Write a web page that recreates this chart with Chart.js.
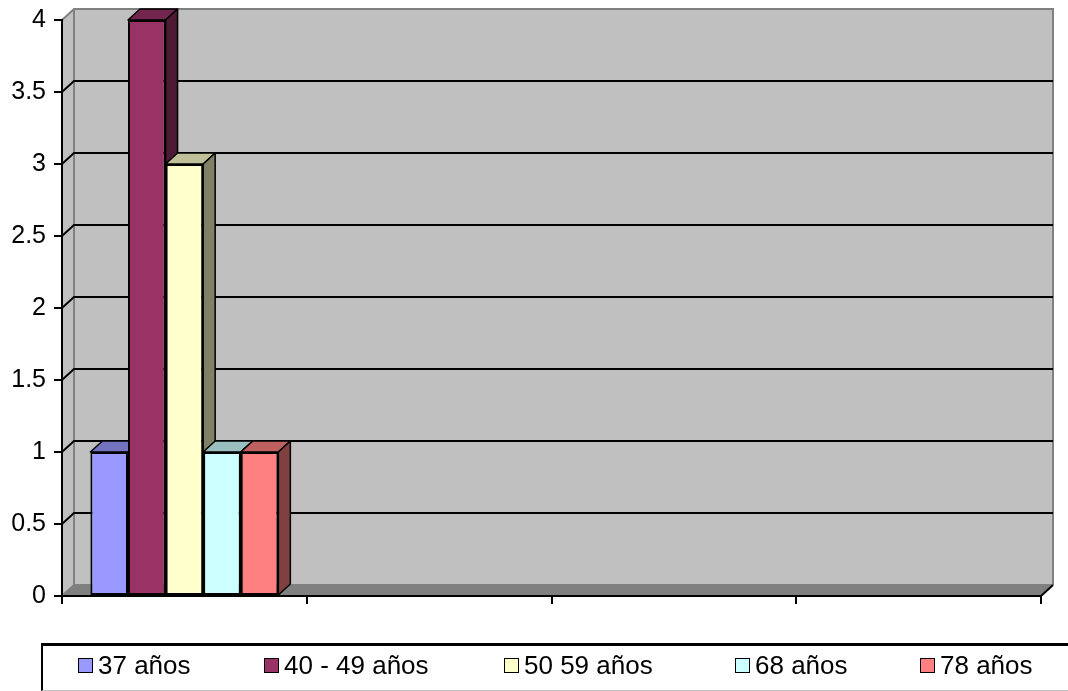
<!DOCTYPE html>
<html><head><meta charset="utf-8">
<script src="https://cdn.jsdelivr.net/npm/chart.js@4.4.1/dist/chart.umd.min.js"></script>
<style>
html,body{margin:0;padding:0;background:#fff;}
#wrap{position:relative;width:1068px;height:691px;overflow:hidden;}
canvas{position:absolute;left:0;top:0;}
#legend{position:absolute;left:41px;top:643px;width:1100px;height:44px;border-top:3px solid #000;border-left:2px solid #000;border-bottom:1px solid #c0c0c0;font:26px "Liberation Sans",Arial,sans-serif;color:#000;}
.item{position:absolute;top:-3px;height:44px;display:flex;align-items:center;white-space:nowrap;}
.sw{width:13px;height:13px;border:1.5px solid #000;margin-right:5px;}
</style></head>
<body><div id="wrap"><canvas id="c" width="1068" height="691"></canvas><div id="legend"></div></div>
<script>
// ---- data ----
const categories = ['', '', '', ''];
const seriesNames = ['37 años', '40 - 49 años', '50 59 años', '68 años', '78 años'];
const s37 = [1, null, null, null];
const s40_49 = [4, null, null, null];
const s50_59 = [3, null, null, null];
const s68 = [1, null, null, null];
const s78 = [1, null, null, null];
const yTickValues = [0, 0.5, 1, 1.5, 2, 2.5, 3, 3.5, 4];

// ---- styles ----
const frontColors = ['#9999FF', '#993366', '#FFFFCC', '#CCFFFF', '#FF8080'];
const topColors   = ['#7373BF', '#73264D', '#BFBF99', '#99BFBF', '#BF6060'];
const sideColors  = ['#4D4D80', '#4D1933', '#808066', '#668080', '#804040'];
const legendLeft  = [35, 221, 461, 692, 877];
const DX = 12, DY = 11;

const seriesData = [s37, s40_49, s50_59, s68, s78];

const excel3d = {
  id: 'excel3d',
  beforeDraw(chart) {
    const ctx = chart.ctx, a = chart.chartArea, y = chart.scales.y;
    ctx.save();
    // back wall
    ctx.fillStyle = '#C0C0C0';
    ctx.fillRect(a.left + DX, a.top - DY, a.right - a.left, a.bottom - a.top);
    // left side wall
    ctx.beginPath();
    ctx.moveTo(a.left, a.top); ctx.lineTo(a.left + DX, a.top - DY);
    ctx.lineTo(a.left + DX, a.bottom - DY); ctx.lineTo(a.left, a.bottom); ctx.closePath();
    ctx.fill();
    // floor
    ctx.fillStyle = '#808080';
    ctx.beginPath();
    ctx.moveTo(a.left, a.bottom); ctx.lineTo(a.left + DX, a.bottom - DY);
    ctx.lineTo(a.right + DX, a.bottom - DY); ctx.lineTo(a.right, a.bottom); ctx.closePath();
    ctx.fill();
    // wall outlines
    ctx.strokeStyle = '#808080'; ctx.lineWidth = 2;
    ctx.beginPath();
    ctx.moveTo(a.left, a.top); ctx.lineTo(a.left + DX, a.top - DY);
    ctx.lineTo(a.right + DX, a.top - DY); ctx.lineTo(a.right + DX, a.bottom - DY);
    ctx.moveTo(a.left + DX, a.top - DY); ctx.lineTo(a.left + DX, a.bottom - DY);
    ctx.lineTo(a.right + DX, a.bottom - DY);
    ctx.moveTo(a.left, a.bottom); ctx.lineTo(a.left + DX, a.bottom - DY);
    ctx.stroke();
    // right end of floor
    ctx.strokeStyle = '#000';
    ctx.beginPath();
    ctx.moveTo(a.right, a.bottom); ctx.lineTo(a.right + DX, a.bottom - DY);
    ctx.stroke();
    // grid lines on wall
    ctx.strokeStyle = '#000'; ctx.lineWidth = 2;
    yTickValues.forEach(v => {
      if (v <= 0 || v >= 4) return;
      const py = y.getPixelForValue(v);
      ctx.beginPath();
      ctx.moveTo(a.left, py); ctx.lineTo(a.left + DX, py - DY);
      ctx.lineTo(a.right + DX, py - DY);
      ctx.stroke();
    });
    ctx.restore();
  },
  beforeDatasetsDraw(chart) {
    const ctx = chart.ctx;
    ctx.save();
    ctx.strokeStyle = '#000'; ctx.lineWidth = 1.5; ctx.lineJoin = 'round';
    chart.data.datasets.forEach((ds, i) => {
      const meta = chart.getDatasetMeta(i);
      meta.data.forEach((bar, j) => {
        if (ds.data[j] == null) return;
        const p = bar.getProps(['x', 'y', 'base', 'width'], true);
        const l = p.x - p.width / 2, r = p.x + p.width / 2, t = p.y, b = p.base;
        // top face
        ctx.fillStyle = topColors[i];
        ctx.beginPath();
        ctx.moveTo(l, t); ctx.lineTo(l + DX, t - DY); ctx.lineTo(r + DX, t - DY); ctx.lineTo(r, t); ctx.closePath();
        ctx.fill(); ctx.stroke();
        // side face
        ctx.fillStyle = sideColors[i];
        ctx.beginPath();
        ctx.moveTo(r, t); ctx.lineTo(r + DX, t - DY); ctx.lineTo(r + DX, b - DY); ctx.lineTo(r, b); ctx.closePath();
        ctx.fill(); ctx.stroke();
      });
    });
    ctx.restore();
  }
};

const chart = new Chart(document.getElementById('c'), {
  type: 'bar',
  data: {
    labels: categories,
    datasets: seriesNames.map((name, i) => ({
      label: name,
      data: seriesData[i],
      backgroundColor: frontColors[i],
      borderColor: '#000',
      borderWidth: 2,
      borderSkipped: false,
      categoryPercentage: 0.768,
      barPercentage: 1.0
    }))
  },
  options: {
    responsive: false,
    animation: false,
    layout: { padding: { top: 20, right: 27, bottom: 0, left: 0 } },
    plugins: { legend: { display: false }, tooltip: { enabled: false } },
    scales: {
      x: {
        afterFit(s) { s.height = 95; s.paddingLeft = 0; s.paddingRight = 0; },
        grid: { display: true, drawOnChartArea: false, drawTicks: true, tickLength: 8, color: '#000', lineWidth: 2, offset: true },
        border: { display: true, color: '#000', width: 2 },
        ticks: { display: false }
      },
      y: {
        min: 0, max: 4,
        afterFit(s) { s.width = 62; s.paddingTop = 0; s.paddingBottom = 0; },
        afterBuildTicks(s) { s.ticks = yTickValues.map(v => ({ value: v })); },
        grid: { display: true, drawOnChartArea: false, drawTicks: true, tickLength: 8, color: '#000', lineWidth: 2 },
        border: { display: true, color: '#000', width: 2 },
        ticks: {
          padding: 8,
          color: '#000',
          font: { family: '"Liberation Sans", Arial, sans-serif', size: 25 },
          callback: v => String(v)
        }
      }
    }
  },
  plugins: [excel3d]
});

// ---- legend ----
const lg = document.getElementById('legend');
seriesNames.forEach((name, i) => {
  const it = document.createElement('div');
  it.className = 'item';
  it.style.left = legendLeft[i] + 'px';
  const sw = document.createElement('span');
  sw.className = 'sw';
  sw.style.background = frontColors[i];
  const tx = document.createElement('span');
  tx.textContent = name;
  it.appendChild(sw); it.appendChild(tx);
  lg.appendChild(it);
});
</script>
</body></html>
